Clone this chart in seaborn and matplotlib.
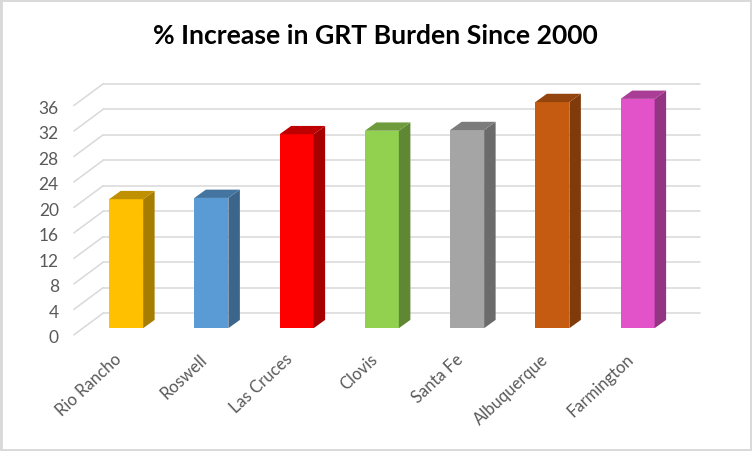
"""% increase in GRT burden, 3D-look column chart."""

import matplotlib
matplotlib.use("Agg")
import matplotlib.pyplot as plt
import matplotlib.transforms as mtrans
from matplotlib.colors import to_rgb
from matplotlib.patches import Polygon, Rectangle
import seaborn as sns


CITIES = ["Rio Rancho", "Roswell", "Las Cruces", "Clovis", "Santa Fe", "Albuquerque", "Farmington"]
INCREASE = [20.25, 20.45, 30.45, 31.0, 31.1, 35.5, 36.0]
COLORS = ["#FFC000", "#5B9BD5", "#FF0000", "#92D050", "#A5A5A5", "#C55A11", "#E252C8"]
Y_TICKS = [0, 4, 8, 12, 16, 20, 24, 28, 32, 36]

W, H = 752, 452
PX_X = 85.25  # pixels per category
PX_Y = 6.37   # pixels per percent
GRID = "#D9D9D9"
TEXT = "#595959"


def shade(color, factor):
    return tuple(c * factor for c in to_rgb(color))


sns.set_theme(style="white")
plt.rcParams["font.family"] = ["Lato", "DejaVu Sans"]

fig = plt.figure(figsize=(W / 100, H / 100), dpi=100, facecolor="white")
ax = fig.add_axes([83.5 / W, (H - 329.2) / H, 7 * PX_X / W, 36 * PX_Y / H])
ax.patch.set_alpha(0)

sns.barplot(x=CITIES, y=INCREASE, hue=CITIES, palette=COLORS, legend=False,
            width=34 / PX_X, saturation=1, linewidth=0, ax=ax, zorder=3)
ax.set_xlim(-0.5, 6.5)
ax.set_ylim(0, 36)
sns.despine(ax=ax, left=True, bottom=True, top=True, right=True)

# offsets from the bar plane, converted to data units
back_x, back_y = 19.6 / PX_X, 15.0 / PX_Y
front_x, front_y = -9.7 / PX_X, -6.7 / PX_Y
depth_x, depth_y = 11.5 / PX_X, 8.3 / PX_Y

for t in Y_TICKS:
    ax.plot([-0.5 + back_x, 6.5 + back_x], [t + back_y, t + back_y], color=GRID, lw=1.1, clip_on=False, zorder=1)
    ax.plot([-0.5 + front_x, -0.5 + back_x], [t + front_y, t + back_y], color=GRID, lw=1.1, clip_on=False, zorder=1)

for bar, color in zip(ax.patches, COLORS):
    x0, x1 = bar.get_x(), bar.get_x() + bar.get_width()
    top = bar.get_height()
    ax.add_patch(Polygon([(x1, 0), (x1 + depth_x, depth_y), (x1 + depth_x, top + depth_y), (x1, top)],
                         facecolor=shade(color, 0.65), edgecolor="none", clip_on=False, zorder=3))
    ax.add_patch(Polygon([(x0, top), (x0 + depth_x, top + depth_y), (x1 + depth_x, top + depth_y), (x1, top)],
                         facecolor=shade(color, 0.75), edgecolor="none", clip_on=False, zorder=3))
    bar.set_clip_on(False)

ax.set_yticks(Y_TICKS)
ax.tick_params(axis="y", length=0, pad=17.8, labelsize=12.5, labelcolor=TEXT)
ax.tick_params(axis="x", length=0, pad=16, labelsize=12, labelcolor=TEXT)
y_shift = mtrans.ScaledTranslation(0, -7.5 / 100, fig.dpi_scale_trans)
for label in ax.get_yticklabels():
    label.set_transform(label.get_transform() + y_shift)
    label.set_ha("right")
x_shift = mtrans.ScaledTranslation(-12 / 100, 0, fig.dpi_scale_trans)
for label in ax.get_xticklabels():
    label.set_transform(label.get_transform() + x_shift)
    label.set_rotation(43)
    label.set_ha("right")
    label.set_rotation_mode("anchor")

fig.text(375.5 / W, 1 - 36 / H, "% Increase in GRT Burden Since 2000", ha="center", va="center",
         fontsize=19.1, fontweight="bold", color="#000000")

fig.add_artist(Rectangle((0, 0), 1, 1, transform=fig.transFigure, fill=False, edgecolor=GRID, linewidth=3.5))

fig.savefig("out.png", dpi=100, facecolor="white")
plt.close(fig)
